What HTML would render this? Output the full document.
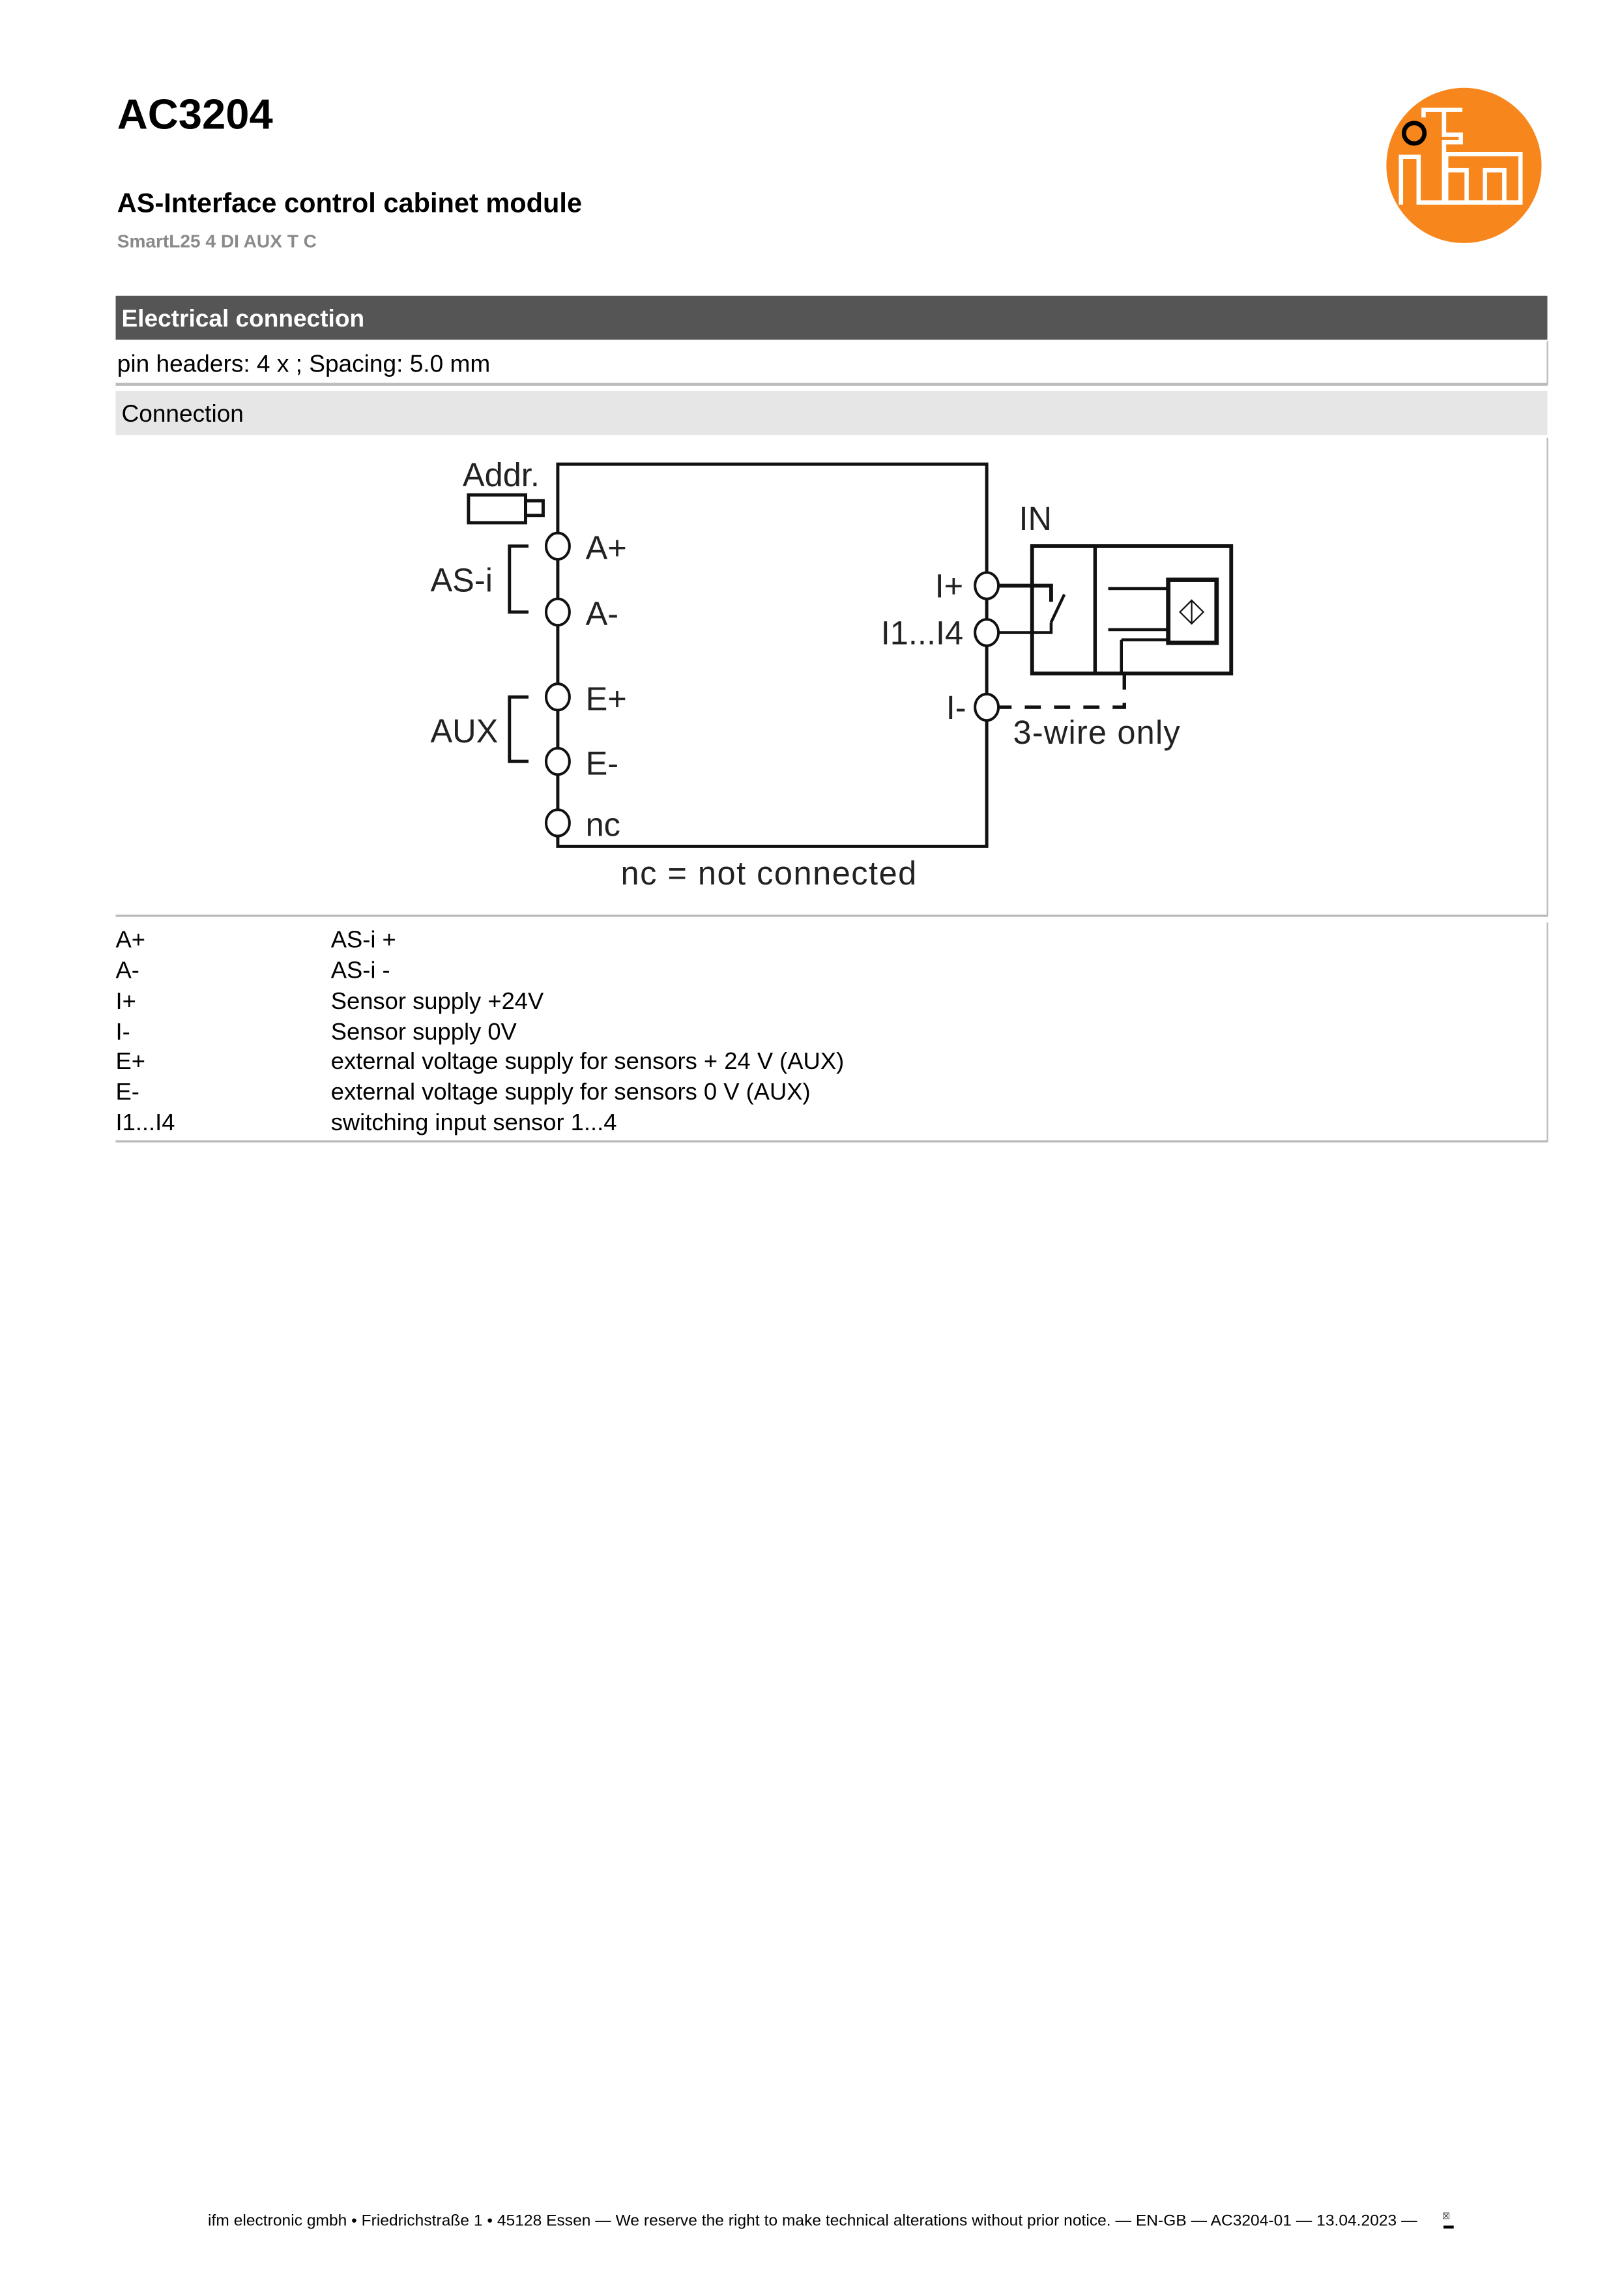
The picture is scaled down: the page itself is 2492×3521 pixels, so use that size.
<!DOCTYPE html>
<html><head><meta charset="utf-8"><style>html,body{margin:0;padding:0;background:#fff}svg{display:block}</style></head>
<body>
<svg width="2492" height="3521" viewBox="0 0 1109.3 1567.4" xmlns="http://www.w3.org/2000/svg" font-family="Liberation Sans, Arial, sans-serif">
<rect width="1109.3" height="1567.4" fill="#fff"/>
<text x="80" y="88" font-size="29" font-weight="bold" fill="#000">AC3204</text>
<text x="80" y="145" font-size="18.5" font-weight="bold" fill="#000">AS-Interface control cabinet module</text>
<text x="80" y="169" font-size="12.5" font-weight="bold" fill="#8a8a8a">SmartL25 4 DI AUX T C</text>
<!-- logo -->
<circle cx="1000" cy="113" r="53" fill="#f7861c"/>
<g transform="translate(934.9,53) scale(0.1471)" fill="none" stroke="#fff" stroke-width="20" stroke-linejoin="miter">
<path d="M150,590 V368 H232 V580 H350 V300 H428 V265 H350 V150 H435"/>
<path d="M255,185 V150 H350"/>
<path d="M360,580 V355 H705 V580 H630 V430 H540 V580 H455 V430 H365"/>
<path d="M350,580 H705"/>
</g>
<circle cx="966" cy="91" r="7" fill="none" stroke="#000" stroke-width="3"/>
<!-- header bars -->
<rect x="79" y="202" width="978" height="30" fill="#555"/>
<text x="83" y="223" font-size="16.5" font-weight="bold" fill="#fff">Electrical connection</text>
<text x="80" y="254" font-size="16.5" fill="#000">pin headers: 4 x ; Spacing: 5.0 mm</text>
<line x1="1057" y1="233" x2="1057" y2="263" stroke="#bbb" stroke-width="1"/>
<line x1="79" y1="262.5" x2="1057" y2="262.5" stroke="#bbb" stroke-width="2"/>
<rect x="79" y="267" width="978" height="30" fill="#e6e6e6"/>
<text x="83" y="288" font-size="16.5" fill="#000">Connection</text>
<line x1="1057" y1="299" x2="1057" y2="626" stroke="#bbb" stroke-width="1"/>
<line x1="79" y1="625.5" x2="1057" y2="625.5" stroke="#bbb" stroke-width="1.5"/>
<!-- diagram -->
<g stroke="#111" fill="none" stroke-width="2.2">
<path d="M381,317 H674 V578 H381 Z"/>
<rect x="320" y="338" width="39" height="19"/>
<rect x="359" y="342" width="12" height="10"/>
<path d="M361,373 H348 V418 H361"/>
<path d="M361,476 H348 V520 H361"/>
<g fill="#fff" stroke-width="1.8">
<ellipse cx="381" cy="373" rx="8" ry="9"/>
<ellipse cx="381" cy="418" rx="8" ry="9"/>
<ellipse cx="381" cy="476" rx="8" ry="9"/>
<ellipse cx="381" cy="520" rx="8" ry="9"/>
<ellipse cx="381" cy="562" rx="8" ry="9"/>
<ellipse cx="674" cy="400" rx="8" ry="9"/>
<ellipse cx="674" cy="432" rx="8" ry="9"/>
<ellipse cx="674" cy="483" rx="8" ry="9"/>
</g>
<rect x="705" y="373" width="136" height="87" stroke-width="2.6"/>
<line x1="748" y1="373" x2="748" y2="460" stroke-width="2.4"/>
<path d="M682,400 H718 V411" stroke-width="2.6"/>
<path d="M718,425 L727,406" stroke-width="2"/>
<path d="M682,432 H718 V425" stroke-width="2"/>
<rect x="798" y="396" width="33" height="43" stroke-width="3"/>
<path d="M814,410 L822,418 L814,426 L806,418 Z M814,410 V426" stroke-width="1"/>
<path d="M757,402 H798 M757,430 H798 M766,437 H798" stroke-width="2"/>
<path d="M766,437 V460" stroke-width="2"/>
<path d="M768,460 V483 H682" stroke-width="2.4" stroke-dasharray="11,9"/>
</g>
<g font-size="22.5" fill="#222">
<text x="316" y="332">Addr.</text>
<text x="294" y="404">AS-i</text>
<text x="294" y="507">AUX</text>
<text x="400" y="382">A+</text>
<text x="400" y="427">A-</text>
<text x="400" y="485">E+</text>
<text x="400" y="529">E-</text>
<text x="400" y="571">nc</text>
<text x="658" y="408" text-anchor="end">I+</text>
<text x="658" y="440" text-anchor="end">I1...I4</text>
<text x="660" y="491" text-anchor="end">I-</text>
<text x="696" y="362">IN</text>
<text x="692" y="508" textLength="114">3-wire only</text>
<text x="424" y="604" textLength="202">nc = not connected</text>
</g>
<!-- table -->
<line x1="1057" y1="630" x2="1057" y2="780" stroke="#bbb" stroke-width="1"/>
<line x1="79" y1="779.5" x2="1057" y2="779.5" stroke="#bbb" stroke-width="1.5"/>
<g font-size="16.2" fill="#000">
<text x="79" y="647">A+</text><text x="226" y="647">AS-i +</text>
<text x="79" y="668">A-</text><text x="226" y="668">AS-i -</text>
<text x="79" y="689">I+</text><text x="226" y="689">Sensor supply +24V</text>
<text x="79" y="710">I-</text><text x="226" y="710">Sensor supply 0V</text>
<text x="79" y="730">E+</text><text x="226" y="730">external voltage supply for sensors + 24 V (AUX)</text>
<text x="79" y="751">E-</text><text x="226" y="751">external voltage supply for sensors 0 V (AUX)</text>
<text x="79" y="772">I1...I4</text><text x="226" y="772">switching input sensor 1...4</text>
</g>
<text x="142" y="1520" font-size="10.9" fill="#000" textLength="826">ifm electronic gmbh • Friedrichstraße 1 • 45128 Essen — We reserve the right to make technical alterations without prior notice. — EN-GB — AC3204-01 — 13.04.2023 —</text>
<text x="990" y="1516" font-size="6" fill="#000" transform="rotate(-90 990 1516)">☒</text>
<rect x="986" y="1520" width="7" height="2" fill="#000"/>
</svg>
</body></html>
